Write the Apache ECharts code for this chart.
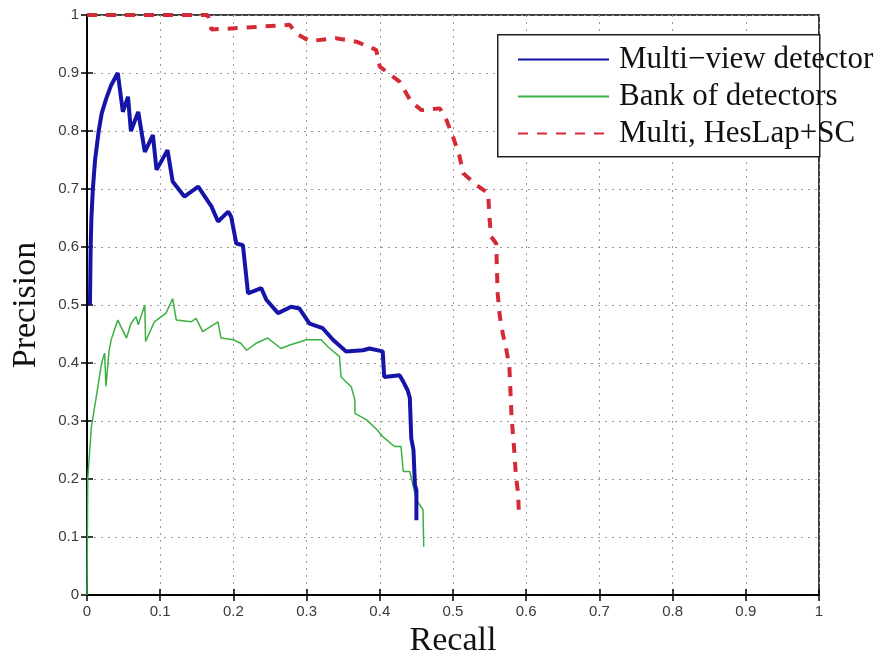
<!DOCTYPE html>
<html>
<head>
<meta charset="utf-8">
<script src="https://cdn.jsdelivr.net/npm/echarts@6/dist/echarts.min.js"></script>
<style>html,body{margin:0;padding:0;background:#fff;}#c{width:880px;height:657px;}</style>
</head>
<body>
<div id="c"></div>
<script>
const seriesNames = ['Multi\u2212view detector', 'Bank of detectors', 'Multi, HesLap+SC'];
const xTicks = [0, 0.1, 0.2, 0.3, 0.4, 0.5, 0.6, 0.7, 0.8, 0.9, 1];

const blueRecall = [0.004,0.0045,0.005,0.006,0.008,0.011,0.016,0.020,0.026,0.033,0.042,0.049,0.056,0.060,0.070,0.079,0.090,0.095,0.110,0.117,0.133,0.142,0.152,0.161,0.170,0.179,0.193,0.197,0.204,0.213,0.220,0.238,0.245,0.261,0.279,0.290,0.304,0.322,0.336,0.354,0.377,0.386,0.404,0.406,0.427,0.432,0.438,0.441,0.443,0.446,0.448,0.450,0.450];
const bluePrecision = [0.50,0.55,0.60,0.65,0.70,0.75,0.80,0.83,0.855,0.879,0.90,0.833,0.859,0.80,0.833,0.764,0.793,0.733,0.767,0.713,0.687,0.695,0.704,0.687,0.67,0.644,0.661,0.652,0.606,0.603,0.52,0.529,0.509,0.486,0.497,0.494,0.468,0.46,0.44,0.42,0.422,0.425,0.42,0.376,0.379,0.368,0.353,0.34,0.27,0.25,0.19,0.18,0.129];

const greenRecall = [0,0.001,0.006,0.015,0.020,0.024,0.026,0.030,0.033,0.042,0.054,0.060,0.067,0.070,0.079,0.080,0.092,0.108,0.117,0.122,0.142,0.149,0.158,0.179,0.183,0.200,0.210,0.218,0.231,0.247,0.265,0.277,0.300,0.320,0.329,0.345,0.347,0.361,0.366,0.366,0.382,0.397,0.404,0.420,0.429,0.432,0.441,0.450,0.459,0.460];
const greenPrecision = [0,0.20,0.29,0.36,0.40,0.417,0.36,0.42,0.44,0.474,0.443,0.468,0.48,0.466,0.50,0.437,0.471,0.486,0.511,0.474,0.471,0.477,0.454,0.471,0.443,0.44,0.434,0.422,0.434,0.443,0.425,0.431,0.44,0.44,0.428,0.411,0.376,0.359,0.336,0.313,0.302,0.284,0.273,0.256,0.256,0.213,0.213,0.164,0.147,0.083];

const redRecall = [0,0.165,0.170,0.200,0.277,0.286,0.304,0.340,0.368,0.395,0.400,0.427,0.443,0.457,0.482,0.491,0.500,0.509,0.514,0.532,0.548,0.550,0.552,0.559,0.561,0.564,0.568,0.573,0.577,0.580,0.584,0.586,0.589,0.590];
const redPrecision = [1,1,0.975,0.977,0.983,0.968,0.955,0.96,0.954,0.94,0.911,0.885,0.85,0.836,0.839,0.819,0.79,0.756,0.727,0.707,0.693,0.647,0.618,0.606,0.52,0.48,0.451,0.422,0.394,0.307,0.244,0.204,0.175,0.138];

function pairs(xs, ys) { return xs.map((x, i) => [x, ys[i]]); }

const chart = echarts.init(document.getElementById('c'), null, {renderer: 'canvas'});
const tickFont = {fontFamily: 'Liberation Sans', fontSize: 15, color: '#3a3a3a'};
const gridLine = {show: true, lineStyle: {color: '#9a9a9a', type: [2, 5], width: 1}};

chart.setOption({
  backgroundColor: '#fff',
  animation: false,
  grid: {left: 87, right: 61, top: 15, bottom: 62, containLabel: false, outerBoundsMode: 'none',
         show: true, borderColor: '#000', borderWidth: 1.5, backgroundColor: 'transparent'},
  xAxis: [{
    type: 'value', min: 0, max: 1, interval: 0.1,
    name: 'Recall', nameLocation: 'middle', nameGap: 27,
    nameTextStyle: {fontFamily: 'Liberation Serif', fontSize: 34, color: '#111'},
    axisLine: {show: true, onZero: false, lineStyle: {color: '#000', width: 1.5}},
    axisTick: {show: true, inside: true, length: 6, lineStyle: {color: '#000', width: 1.5}},
    axisLabel: Object.assign({margin: 9, formatter: v => xTicks.includes(Math.round(v*10)/10) ? String(Math.round(v*10)/10) : ''}, tickFont),
    splitLine: gridLine
  }, {
    type: 'value', position: 'top', min: 0, max: 1, interval: 0.1,
    axisLine: {show: true, lineStyle: {color: '#000', width: 1.5}},
    axisTick: {show: true, inside: true, length: 6, lineStyle: {color: '#000', width: 1.5}},
    axisLabel: {show: false}, splitLine: {show: false}
  }],
  yAxis: [{
    type: 'value', min: 0, max: 1, interval: 0.1,
    name: 'Precision', nameLocation: 'middle', nameGap: 44, nameRotate: 90,
    nameTextStyle: {fontFamily: 'Liberation Serif', fontSize: 34, color: '#111'},
    axisLine: {show: true, onZero: false, lineStyle: {color: '#000', width: 1.5}},
    axisTick: {show: true, inside: true, length: 6, lineStyle: {color: '#000', width: 1.5}},
    axisLabel: Object.assign({margin: 8, formatter: v => String(Math.round(v*10)/10)}, tickFont),
    splitLine: gridLine
  }, {
    type: 'value', position: 'right', min: 0, max: 1, interval: 0.1,
    axisLine: {show: true, lineStyle: {color: '#000', width: 1.5}},
    axisTick: {show: true, inside: true, length: 6, lineStyle: {color: '#000', width: 1.5}},
    axisLabel: {show: false}, splitLine: {show: false}
  }],
  graphic: [{
    type: 'rect', left: 497, top: 34, z: 5,
    shape: {width: 322, height: 122},
    style: {fill: '#fff', stroke: '#222', lineWidth: 1.5}
  }],
  legend: {
    orient: 'vertical', left: 512, top: 39, z: 10,
    itemWidth: 91, itemHeight: 14, itemGap: 6,
    itemStyle: {opacity: 0},
    textStyle: {fontFamily: 'Liberation Serif', fontSize: 31, color: '#111', lineHeight: 31, padding: [0, 0, 0, 5]},
    data: seriesNames
  },
  series: [{
    name: seriesNames[0], type: 'line', data: pairs(blueRecall, bluePrecision),
    showSymbol: false, symbol: 'none', clip: false, z: 3,
    lineStyle: {color: '#1414a8', width: 4}, itemStyle: {color: '#1414a8'}
  }, {
    name: seriesNames[1], type: 'line', data: pairs(greenRecall, greenPrecision),
    showSymbol: false, symbol: 'none', clip: false, z: 2,
    lineStyle: {color: '#3cb043', width: 1.5}, itemStyle: {color: '#3cb043'}
  }, {
    name: seriesNames[2], type: 'line', data: pairs(redRecall, redPrecision),
    showSymbol: false, symbol: 'none', clip: false, z: 4,
    lineStyle: {color: '#d42a36', width: 4, type: [10, 9]}, itemStyle: {color: '#d42a36'}
  }]
});
</script>
</body>
</html>
